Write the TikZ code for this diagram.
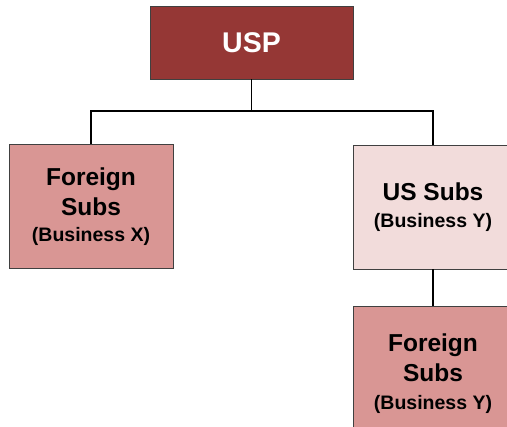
\documentclass[tikz,border=0pt]{standalone}
\usepackage{fontspec}
\setmainfont{Liberation Sans}
\usepackage{xcolor}
\definecolor{usp-red}{HTML}{953735}
\definecolor{mid-red}{HTML}{D99694}
\definecolor{pale-red}{HTML}{F2DCDB}
\usepackage{tikz}
\usetikzlibrary{positioning}
\tikzset{box/.style = {draw=black!75, line width=.8pt, align=center, text centered, inner sep=0pt}}
\tikzset{parent/.style = {box, fill=usp-red, text=white, minimum width=203pt, minimum height=73pt, font=\fontsize{28.5}{32}\selectfont\bfseries}}
\tikzset{foreign/.style = {box, fill=mid-red, minimum width=164pt, minimum height=124pt, font=\fontsize{24.5}{30}\selectfont\bfseries}}
\tikzset{domestic/.style = {box, fill=pale-red, minimum width=160pt, minimum height=124pt, font=\fontsize{24.5}{30}\selectfont\bfseries}}
\tikzset{conn/.style = {line width=1.4pt, black}}
\newcommand{\bizname}[1]{{\fontsize{19.5}{24}\selectfont (Business #1)}}

\begin{document}
\begin{tikzpicture}[
  node distance = 37pt
]
\useasboundingbox (0,0) rectangle (507pt,-427pt);

\node[parent] (usp) at (251.5pt,-42.5pt) {USP};
\node[foreign] (fx) at (91pt,-206.75pt) {Foreign\\Subs\\[-4pt]\bizname{X}};
\node[domestic] (us) at (433pt,-207pt) {US Subs\\[-3pt]\bizname{Y}};
\node[foreign, minimum width=160pt, minimum height=134pt, below=of us] (fy) {Foreign\\Subs\\[-2pt]\bizname{Y}};

\draw[conn]  (usp.south) -- ++(0,-31.5pt) -| (fx.north);
\draw[conn]  (usp.south) -- ++(0,-31.5pt) -| (us.north);
\draw[conn]  (us) -- (fy);

\end{tikzpicture}
\end{document}
